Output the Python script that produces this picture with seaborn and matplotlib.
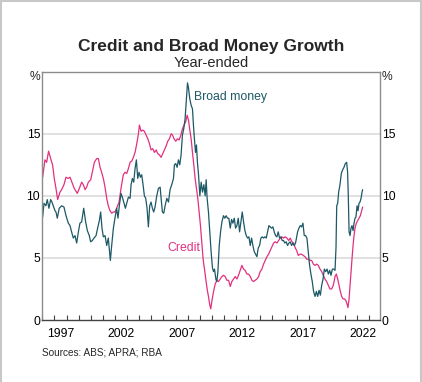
"""Credit and broad money growth, RBA-style chart."""

import matplotlib
matplotlib.use("Agg")
import matplotlib.pyplot as plt
import numpy as np
import pandas as pd
import seaborn as sns
from matplotlib.lines import Line2D

# year-ended growth, %
credit_years = [
    1996.03, 1996.22, 1996.36, 1996.52, 1996.72, 1996.85, 1996.99, 1997.13, 1997.27, 1997.46,
    1997.60, 1997.79, 1997.96, 1998.15, 1998.29, 1998.48, 1998.64, 1998.89, 1999.06, 1999.25,
    1999.39, 1999.53, 1999.66, 1999.80, 2000.00, 2000.13, 2000.30, 2000.49, 2000.63, 2000.77,
    2000.90, 2001.04, 2001.18, 2001.32, 2001.45, 2001.59, 2001.73, 2001.87, 2002.00, 2002.14,
    2002.34, 2002.50, 2002.69, 2002.83, 2002.97, 2003.11, 2003.25, 2003.39, 2003.52, 2003.66,
    2003.80, 2003.94, 2004.02, 2004.16, 2004.29, 2004.43, 2004.57, 2004.71, 2004.85, 2004.98,
    2005.12, 2005.26, 2005.40, 2005.53, 2005.67, 2005.81, 2005.95, 2006.09, 2006.22, 2006.36,
    2006.50, 2006.64, 2006.75, 2006.88, 2007.02, 2007.16, 2007.30, 2007.44, 2007.57, 2007.71,
    2007.85, 2007.96, 2008.07, 2008.18, 2008.29, 2008.40, 2008.51, 2008.62, 2008.73, 2008.84,
    2008.95, 2009.06, 2009.17, 2009.28, 2009.39, 2009.50, 2009.61, 2009.72, 2009.83, 2009.91,
    2010.00, 2010.14, 2010.28, 2010.41, 2010.55, 2010.69, 2010.83, 2010.96, 2011.10, 2011.24,
    2011.38, 2011.52, 2011.65, 2011.79, 2011.93, 2012.07, 2012.20, 2012.34, 2012.48, 2012.62,
    2012.75, 2012.89, 2013.03, 2013.17, 2013.31, 2013.44, 2013.58, 2013.72, 2013.86, 2013.99,
    2014.13, 2014.27, 2014.41, 2014.55, 2014.68, 2014.82, 2014.96, 2015.10, 2015.23, 2015.37,
    2015.51, 2015.65, 2015.79, 2015.92, 2016.06, 2016.20, 2016.34, 2016.47, 2016.61, 2016.75,
    2016.89, 2017.00, 2017.14, 2017.28, 2017.41, 2017.55, 2017.69, 2017.83, 2017.96, 2018.10,
    2018.24, 2018.38, 2018.52, 2018.65, 2018.79, 2018.93, 2019.07, 2019.20, 2019.34, 2019.48,
    2019.62, 2019.75, 2019.89, 2020.03, 2020.17, 2020.28, 2020.39, 2020.50, 2020.61, 2020.72,
    2020.83, 2020.94, 2021.05, 2021.16, 2021.24, 2021.33, 2021.41, 2021.49, 2021.57, 2021.66,
    2021.74, 2021.82, 2021.93, 2022.04, 2022.15, 2022.26, 2022.37, 2022.45,
]
credit_growth = [
    11.5, 12.9, 12.7, 13.6, 12.9, 12.5, 11.4, 10.6, 9.7, 10.3,
    10.5, 10.9, 11.5, 11.4, 11.5, 11.0, 10.6, 10.2, 10.6, 11.1,
    10.9, 10.5, 10.7, 11.1, 11.3, 11.9, 12.7, 13.0, 13.0, 12.3,
    11.9, 11.4, 10.7, 9.8, 9.2, 8.8, 8.6, 8.7, 8.7, 9.0,
    9.5, 10.6, 11.7, 11.9, 11.8, 12.2, 12.7, 12.8, 13.1, 13.5,
    14.2, 15.0, 15.7, 15.2, 15.3, 15.2, 14.9, 14.6, 14.2, 13.7,
    13.8, 13.5, 13.7, 13.4, 13.3, 13.1, 13.4, 13.7, 14.0, 14.4,
    14.6, 15.0, 14.9, 14.6, 14.4, 14.6, 14.5, 14.9, 15.4, 15.7,
    16.0, 16.5, 16.1, 15.3, 14.6, 13.5, 12.5, 11.4, 10.6, 9.8,
    8.7, 7.6, 6.3, 4.9, 4.1, 3.3, 2.5, 1.9, 1.2, 0.9,
    1.5, 2.3, 2.9, 3.2, 3.1, 3.3, 3.5, 3.6, 3.5, 3.2,
    3.2, 2.7, 3.1, 3.3, 3.5, 3.3, 3.6, 4.0, 4.4, 4.1,
    4.0, 3.7, 3.7, 3.5, 3.2, 3.1, 3.2, 3.3, 3.5, 3.9,
    4.1, 4.5, 4.8, 5.1, 5.3, 5.6, 5.9, 6.2, 6.3, 6.2,
    6.4, 6.6, 6.7, 6.6, 6.7, 6.6, 6.4, 6.6, 6.3, 6.2,
    5.8, 5.6, 5.2, 5.3, 5.3, 5.2, 5.1, 4.9, 4.9, 4.8,
    4.8, 4.5, 4.4, 4.5, 4.4, 4.1, 3.9, 3.6, 3.3, 3.1,
    2.8, 2.5, 2.5, 2.8, 3.5, 3.7, 3.3, 2.8, 2.3, 1.9,
    1.7, 1.7, 1.6, 1.3, 1.0, 1.7, 2.8, 3.9, 4.9, 6.0,
    6.8, 7.4, 7.8, 8.0, 8.2, 8.4, 8.8, 9.1,
]

money_years = [
    1996.03, 1996.14, 1996.30, 1996.41, 1996.55, 1996.69, 1996.80, 1996.91, 1997.05, 1997.13,
    1997.24, 1997.40, 1997.60, 1997.79, 1997.96, 1998.15, 1998.29, 1998.42, 1998.56, 1998.70,
    1998.84, 1998.98, 1999.11, 1999.25, 1999.42, 1999.58, 1999.72, 1999.88, 1999.99, 2000.13,
    2000.27, 2000.44, 2000.57, 2000.71, 2000.82, 2000.93, 2001.04, 2001.18, 2001.32, 2001.45,
    2001.62, 2001.73, 2001.87, 2002.00, 2002.14, 2002.25, 2002.36, 2002.50, 2002.64, 2002.75,
    2002.86, 2002.97, 2003.11, 2003.25, 2003.33, 2003.44, 2003.55, 2003.66, 2003.77, 2003.88,
    2003.99, 2004.10, 2004.21, 2004.32, 2004.43, 2004.54, 2004.65, 2004.76, 2004.87, 2004.98,
    2005.09, 2005.20, 2005.31, 2005.45, 2005.59, 2005.73, 2005.81, 2005.92, 2006.03, 2006.14,
    2006.28, 2006.42, 2006.55, 2006.69, 2006.83, 2006.91, 2007.02, 2007.13, 2007.24, 2007.35,
    2007.46, 2007.57, 2007.68, 2007.79, 2007.90, 2007.99, 2008.07, 2008.18, 2008.29, 2008.40,
    2008.48, 2008.56, 2008.65, 2008.73, 2008.81, 2008.90, 2009.01, 2009.12, 2009.23, 2009.34,
    2009.45, 2009.53, 2009.61, 2009.72, 2009.83, 2009.94, 2010.05, 2010.14, 2010.22, 2010.33,
    2010.41, 2010.50, 2010.61, 2010.72, 2010.83, 2010.96, 2011.07, 2011.18, 2011.29, 2011.40,
    2011.52, 2011.63, 2011.74, 2011.85, 2011.96, 2012.07, 2012.18, 2012.29, 2012.40, 2012.51,
    2012.62, 2012.73, 2012.84, 2012.95, 2013.06, 2013.17, 2013.28, 2013.39, 2013.50, 2013.61,
    2013.72, 2013.83, 2013.94, 2014.05, 2014.16, 2014.27, 2014.38, 2014.49, 2014.60, 2014.71,
    2014.82, 2014.93, 2015.04, 2015.15, 2015.26, 2015.37, 2015.48, 2015.59, 2015.70, 2015.81,
    2015.92, 2016.03, 2016.14, 2016.25, 2016.36, 2016.47, 2016.58, 2016.69, 2016.80, 2016.91,
    2017.02, 2017.08, 2017.19, 2017.30, 2017.41, 2017.52, 2017.63, 2017.74, 2017.85, 2017.96,
    2018.07, 2018.18, 2018.29, 2018.40, 2018.52, 2018.63, 2018.74, 2018.85, 2018.96, 2019.07,
    2019.18, 2019.29, 2019.40, 2019.51, 2019.62, 2019.73, 2019.84, 2019.95, 2020.06, 2020.17,
    2020.25, 2020.31, 2020.39, 2020.47, 2020.58, 2020.69, 2020.80, 2020.91, 2021.02, 2021.13,
    2021.21, 2021.27, 2021.33, 2021.41, 2021.49, 2021.57, 2021.66, 2021.74, 2021.82, 2021.90,
    2021.99, 2022.07, 2022.15, 2022.23, 2022.32, 2022.40, 2022.45,
]
money_growth = [
    8.3, 9.4, 9.2, 9.7, 9.0, 9.7, 9.5, 9.2, 8.8, 8.7,
    8.2, 9.0, 9.2, 9.1, 8.4, 7.8, 7.6, 7.1, 6.6, 6.8,
    6.2, 7.1, 7.8, 7.9, 9.0, 7.9, 7.2, 6.8, 6.3, 6.4,
    6.6, 6.8, 7.4, 8.0, 8.7, 7.4, 6.7, 6.8, 6.0, 6.6,
    4.8, 6.0, 7.4, 8.2, 9.0, 8.2, 9.2, 10.2, 9.8, 9.4,
    9.0, 9.4, 9.9, 9.8, 10.9, 11.4, 11.1, 12.2, 12.9, 11.4,
    11.9, 11.5, 11.7, 10.9, 10.0, 9.8, 9.0, 7.5, 9.2, 9.5,
    9.0, 8.7, 9.1, 10.0, 10.6, 10.7, 9.8, 8.7, 8.6, 9.2,
    9.8, 9.5, 10.5, 10.9, 11.4, 12.5, 12.6, 12.3, 12.9, 12.5,
    13.3, 14.9, 15.4, 16.2, 17.8, 19.1, 18.7, 17.8, 17.3, 17.0,
    15.7, 14.6, 13.5, 14.1, 12.7, 11.7, 10.0, 11.1, 10.3, 10.9,
    10.0, 11.3, 9.8, 8.7, 7.1, 5.5, 4.2, 3.9, 4.1, 3.3,
    3.1, 3.9, 6.0, 7.1, 7.9, 8.4, 8.2, 8.4, 8.2, 8.2,
    7.4, 8.1, 7.8, 8.2, 7.4, 7.6, 8.2, 7.1, 7.9, 8.7,
    7.9, 7.2, 6.8, 6.6, 6.7, 6.0, 6.6, 6.0, 5.5, 5.3,
    5.1, 5.8, 6.0, 6.6, 6.7, 6.6, 6.7, 6.6, 7.1, 7.6,
    7.5, 7.4, 7.5, 7.1, 6.8, 6.7, 7.1, 6.6, 6.7, 6.4,
    6.4, 6.2, 6.3, 6.0, 6.2, 6.3, 6.0, 6.2, 6.0, 6.2,
    6.8, 7.1, 7.4, 7.6, 7.5, 7.8, 6.8, 6.8, 6.6, 5.5,
    4.4, 3.7, 3.1, 2.3, 1.9, 2.3, 1.9, 2.4, 2.0, 2.8,
    3.3, 4.1, 3.9, 4.1, 3.7, 4.0, 3.6, 4.1, 4.1, 4.0,
    5.8, 9.2, 9.4, 10.3, 10.9, 11.8, 12.1, 12.3, 12.6, 12.7,
    11.9, 9.8, 7.1, 6.8, 7.4, 7.6, 7.2, 7.8, 8.2, 8.3,
    9.2, 8.8, 9.4, 9.5, 9.8, 10.3, 10.5,
]

label_years = [1997, 2002, 2007, 2012, 2017, 2022]
y_ticks = [0, 5, 10, 15]

CREDIT = "#E2307F"
MONEY = "#1D5866"
GRID = "#d9d9d9"

sns.set_theme(style="white")
plt.rcParams["font.family"] = ["Liberation Sans", "DejaVu Sans"]

credit = pd.DataFrame({"year": credit_years, "growth": credit_growth})
money = pd.DataFrame({"year": money_years, "growth": money_growth})

fig = plt.figure(figsize=(4.22, 3.82), dpi=100)
ax = fig.add_axes([0.1002, 0.1623, 0.7996, 0.6500])

for yv in y_ticks[1:]:
    ax.axhline(yv, color=GRID, lw=1.1, zorder=0)

sns.lineplot(data=credit, x="year", y="growth", ax=ax, color=CREDIT, lw=0.9)
sns.lineplot(data=money, x="year", y="growth", ax=ax, color=MONEY, lw=0.9)

ax.set_xlim(1996.0, 2023.86)
ax.set_ylim(0, 20)
ax.set_xlabel("")
ax.set_ylabel("")

# year boundaries as small inward ticks, labels centred mid-year
ax.set_xticks(np.arange(1996, 2024), minor=True)
ax.set_xticks([y + 0.5 for y in label_years])
ax.set_xticklabels([str(y) for y in label_years])
ax.tick_params(axis="x", which="minor", direction="in", length=3.5, width=0.8,
               color="#444444", bottom=True)
ax.tick_params(axis="x", which="major", length=0, pad=6, labelsize=8.7,
               labelcolor="black")

ax.set_yticks(y_ticks)
ax.set_yticklabels([str(v) for v in y_ticks])
ax.tick_params(axis="y", length=0, pad=1.5, labelsize=8.7, labelleft=True,
               labelright=True, labelcolor="black")

for side in ["top", "right", "left"]:
    ax.spines[side].set_color("#8c8c8c")
    ax.spines[side].set_linewidth(1.0)
ax.spines["bottom"].set_color("#444444")
ax.spines["bottom"].set_linewidth(1.0)

ax.text(-0.006, 0.977, "%", transform=ax.transAxes, ha="right", va="center",
        fontsize=8.7)
ax.text(1.006, 0.977, "%", transform=ax.transAxes, ha="left", va="center",
        fontsize=8.7)

ax.text(2008.49, 18.0, "Broad money", color=MONEY, fontsize=8.8, va="center",
        ha="left")
ax.text(2006.29, 5.83, "Credit", color=CREDIT, fontsize=8.8, va="center",
        ha="left")

fig.text(0.5, 0.877, "Credit and Broad Money Growth", ha="center", va="center",
         fontsize=12.5, fontweight="bold")
fig.text(0.5, 0.835, "Year-ended", ha="center", va="center", fontsize=10.5)
fig.text(0.099, 0.0767, "Sources: ABS; APRA; RBA", ha="left", va="center",
         fontsize=7.2)

# light frame round the chart (top, left, right)
frame = "#c8c8c8"
fig.add_artist(Line2D([0.003, 0.003], [0, 0.997], color=frame, lw=1.5))
fig.add_artist(Line2D([0.997, 0.997], [0, 0.997], color=frame, lw=1.5))
fig.add_artist(Line2D([0.003, 0.997], [0.997, 0.997], color=frame, lw=1.5))

fig.savefig("out.png", dpi=100)
plt.close(fig)
